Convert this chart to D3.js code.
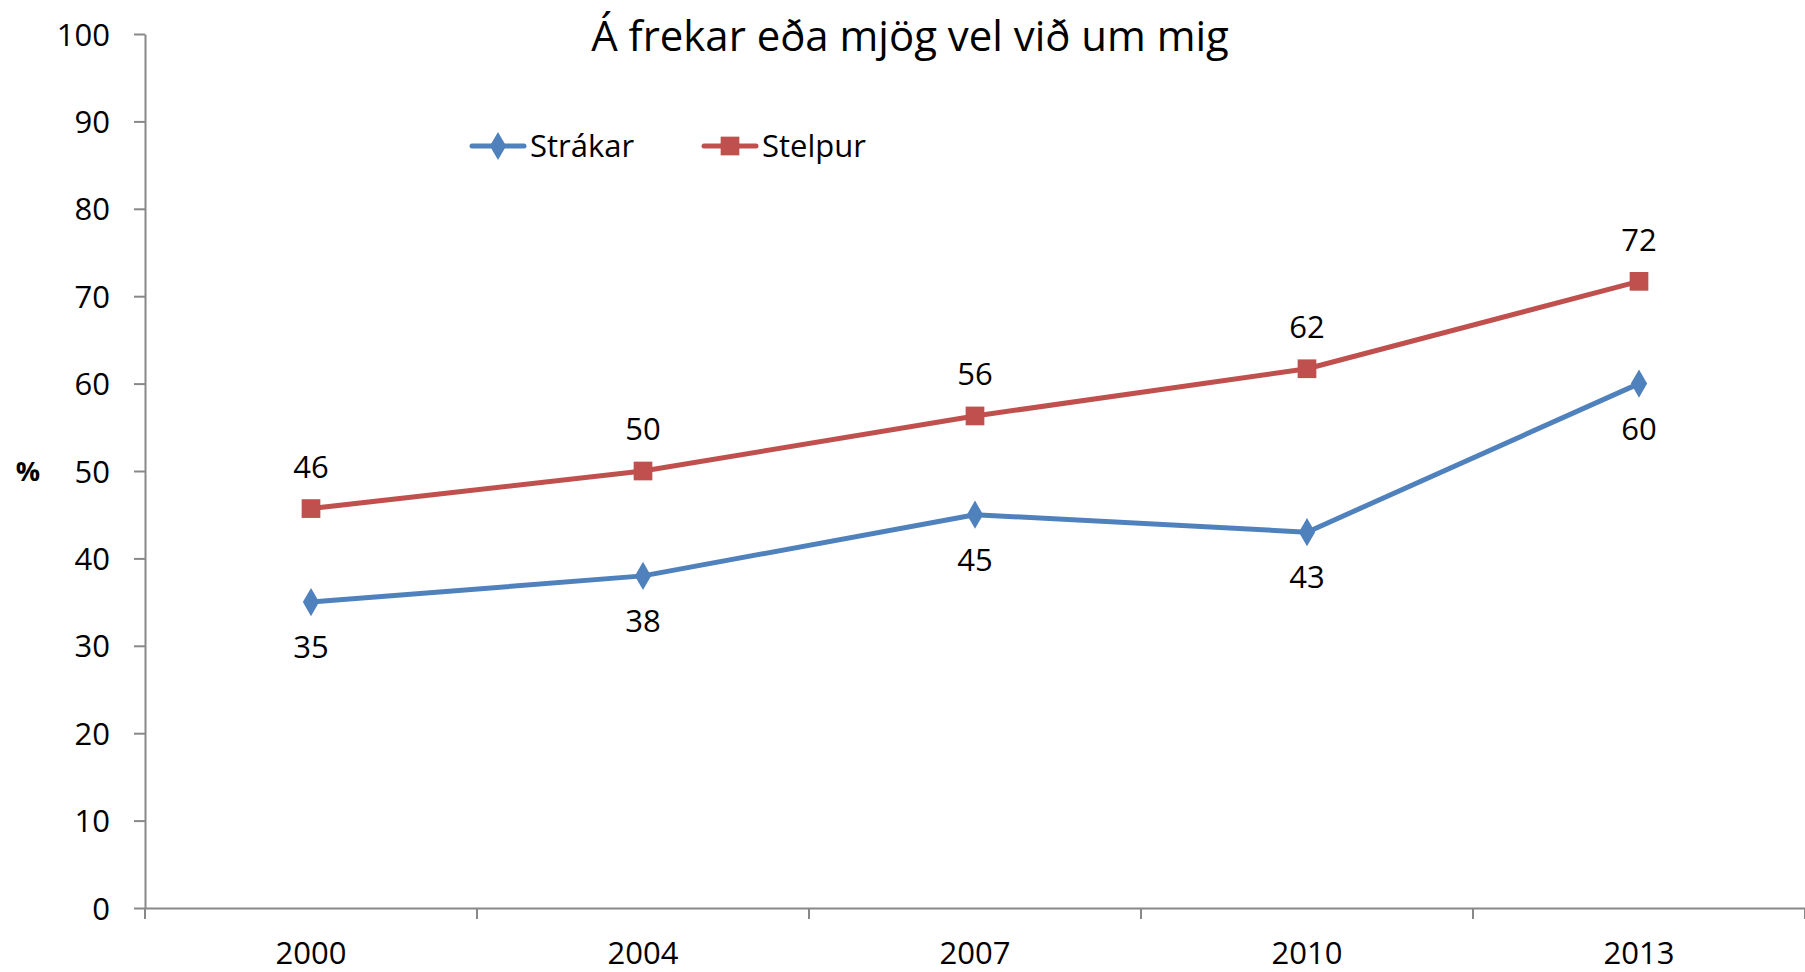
<!DOCTYPE html>
<html lang="is">
<head>
<meta charset="UTF-8">
<title>Á frekar eða mjög vel við um mig</title>
<script src="https://d3js.org/d3.v7.min.js"></script>
<style>
    body { margin: 0; background: #fff; }
    svg { display: block; font-family: "Open Sans", "Noto Sans", sans-serif; }
    .axis path, .axis line { stroke: #888; stroke-width: 2px; }
    .axis text { fill: #000; font-size: 31px; font-family: "Open Sans", "Noto Sans", sans-serif; }
</style>
</head>
<body>
<script>
    // data
    const years = ["2000", "2004", "2007", "2010", "2013"];
    const strakar = [35, 38, 45, 43, 60];
    const stelpur = [45.7, 50, 56.3, 61.7, 71.7];
    const yTicks = [0, 10, 20, 30, 40, 50, 60, 70, 80, 90, 100];
    const titleText = "Á frekar eða mjög vel við um mig";

    const width = 1805, height = 972;
    const margin = { top: 34, right: 0, bottom: 64, left: 145 };

    const svg = d3.select("body").append("svg")
        .attr("width", width)
        .attr("height", height);

    const x = d3.scaleBand().domain(years).range([margin.left, width - margin.right]);
    const y = d3.scaleLinear().domain([0, 100]).range([height - margin.bottom, margin.top]);

    // axes
    svg.append("g")
        .attr("class", "axis")
        .attr("transform", `translate(${margin.left},0)`)
        .call(d3.axisLeft(y).tickValues(yTicks).tickSize(11).tickPadding(24).tickSizeOuter(0))
        .selectAll("text").attr("dy", "0.36em");

    const xAxis = svg.append("g")
        .attr("class", "axis")
        .attr("transform", `translate(0,${y(0)})`)
        .call(d3.axisBottom(x).tickSize(0).tickPadding(34).tickSizeOuter(0));
    // tick marks sit between categories
    xAxis.selectAll(".sep")
        .data(years.concat(["end"]))
        .enter().append("line")
        .attr("class", "sep")
        .attr("x1", (d, i) => margin.left + i * x.step())
        .attr("x2", (d, i) => margin.left + i * x.step())
        .attr("y1", 0).attr("y2", 11);

    svg.append("text")
        .attr("x", 28).attr("y", y(50))
        .attr("dy", "0.36em")
        .attr("text-anchor", "middle")
        .style("font-size", "27px").style("font-weight", "bold")
        .text("%");

    // title, sized to the reference width
    const title = svg.append("text")
        .attr("x", 910).attr("y", 51)
        .attr("text-anchor", "middle")
        .style("font-size", "36px")
        .text(titleText);
    const tl = title.node().getComputedTextLength();
    title.style("font-size", (36 * 638 / tl) + "px");

    const series = [
        { name: "Strákar", values: strakar, color: "#4F81BD", shape: d3.symbolDiamond, size: 230, labelDy: 45 },
        { name: "Stelpur", values: stelpur, color: "#C0504D", shape: d3.symbolSquare, size: 350, labelDy: -42 }
    ];

    const line = d3.line()
        .x((d, i) => x(years[i]) + x.bandwidth() / 2)
        .y(d => y(d));

    series.forEach(s => {
        svg.append("path")
            .datum(s.values)
            .attr("fill", "none")
            .attr("stroke", s.color)
            .attr("stroke-width", 5)
            .attr("stroke-linejoin", "round")
            .attr("d", line);

        svg.selectAll(null)
            .data(s.values)
            .enter().append("path")
            .attr("transform", (d, i) => `translate(${x(years[i]) + x.bandwidth() / 2},${y(d)})`)
            .attr("d", d3.symbol().type(s.shape).size(s.size))
            .attr("fill", s.color);

        svg.selectAll(null)
            .data(s.values)
            .enter().append("text")
            .attr("x", (d, i) => x(years[i]) + x.bandwidth() / 2)
            .attr("y", d => y(d) + s.labelDy)
            .attr("dy", "0.36em")
            .attr("text-anchor", "middle")
            .style("font-size", "31px")
            .text(d => Math.round(d));
    });

    // legend
    const legendX = [472, 704];
    const legend = svg.selectAll(".legend")
        .data(series)
        .enter().append("g")
        .attr("transform", (d, i) => `translate(${legendX[i]},146)`);
    legend.append("line")
        .attr("x1", 0).attr("x2", 52)
        .attr("stroke", d => d.color)
        .attr("stroke-width", 5)
        .attr("stroke-linecap", "round");
    legend.append("path")
        .attr("transform", "translate(26,0)")
        .attr("d", d => d3.symbol().type(d.shape).size(d.size)())
        .attr("fill", d => d.color);
    legend.append("text")
        .attr("x", 58)
        .attr("dy", "0.36em")
        .style("font-size", "31px")
        .text(d => d.name);
</script>
</body>
</html>
